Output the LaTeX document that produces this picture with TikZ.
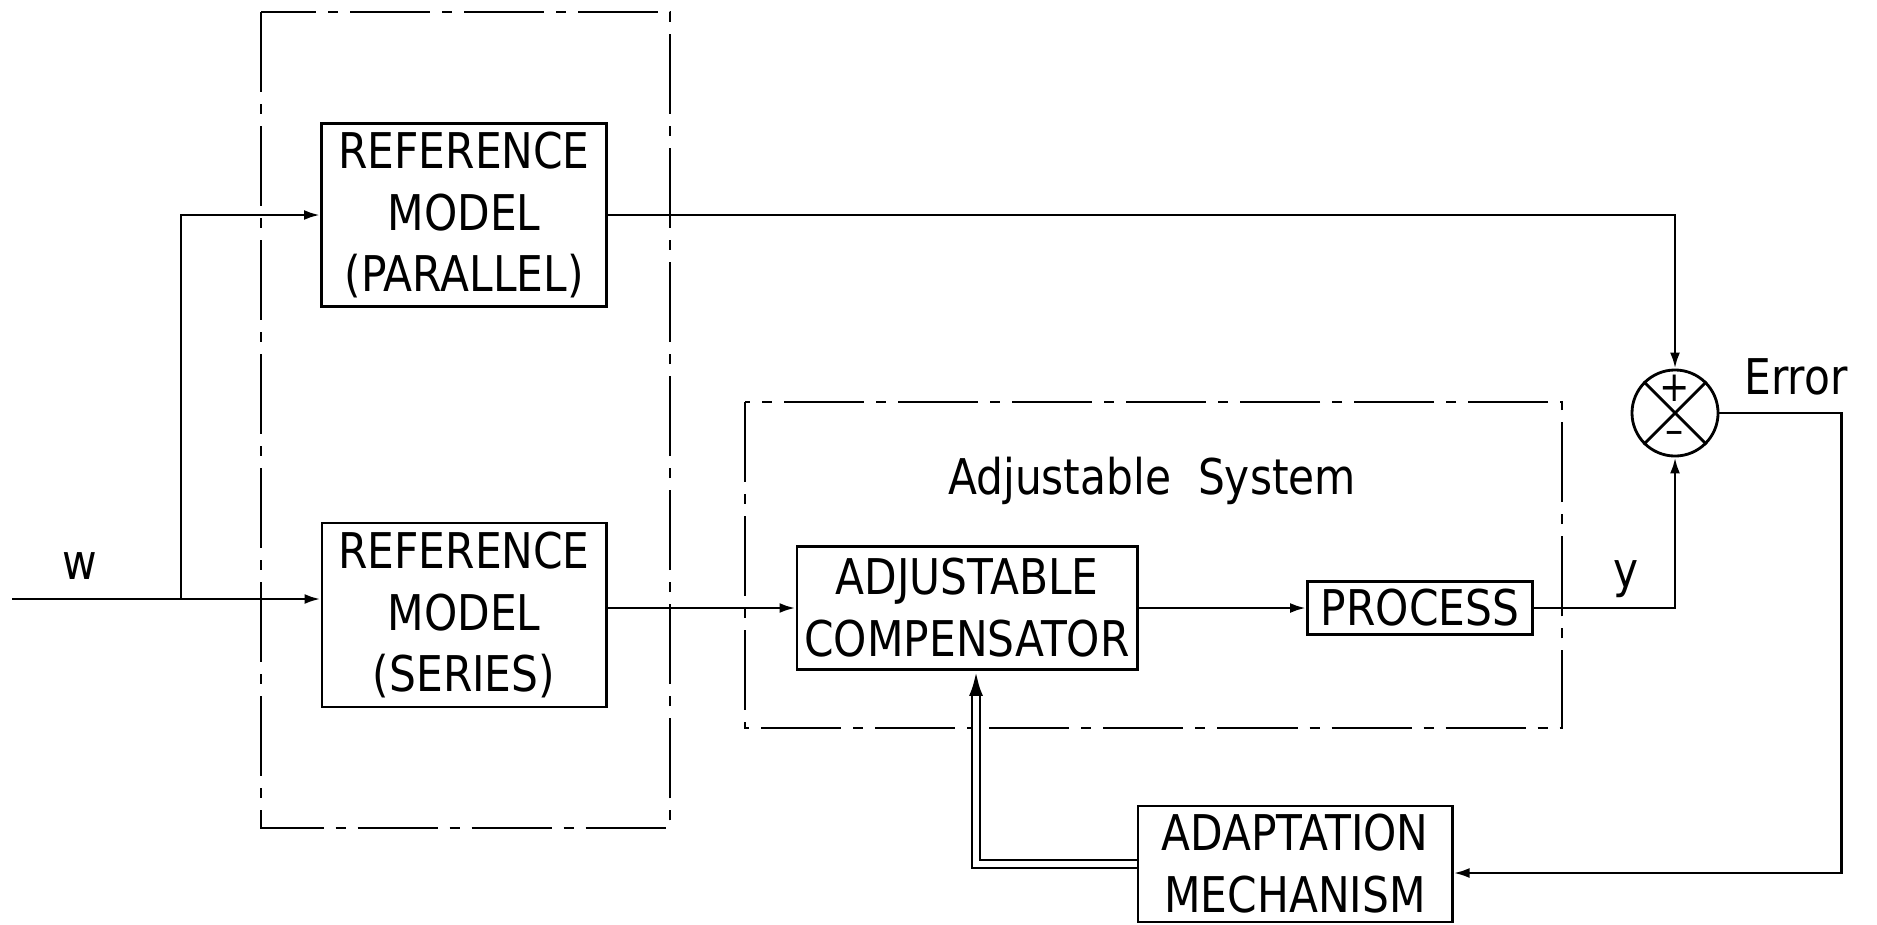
\documentclass[tikz,border=0pt]{standalone}
\usepackage{fontspec}
\setmainfont{DejaVu Sans}[FakeStretch=0.86]
\usepackage{tikz}
\usetikzlibrary{positioning, arrows.meta}

\begin{document}
\begin{tikzpicture}[x=0.01cm, y=-0.01cm, line width=0.8pt,
  blk/.style={draw, rectangle, inner sep=0pt, align=center, font=\fontsize{14}{17.6}\selectfont},
  sig/.style={-{Latex[length=0.16cm,width=0.1cm]}},
  chainbox/.style={line width=0.6pt, dash pattern=on 0.8cm off 0.12cm on 0.1cm off 0.12cm},
  lbl/.style={font=\fontsize{14}{17.6}\selectfont},
  sgn/.style={font=\fontsize{12}{12}\selectfont, inner sep=0pt}]
\useasboundingbox (0,0) rectangle (1877,924);
\draw[chainbox] (261,12) rectangle (670,828);
\draw[chainbox] (745,402) rectangle (1562,728);
\node[blk, minimum width=2.85cm, minimum height=1.83cm] (refpar) at (464,215) {REFERENCE\\MODEL\\(PARALLEL)};
\node[blk, minimum width=2.84cm, minimum height=1.84cm] (refser) at (464,615) {REFERENCE\\MODEL\\(SERIES)};
\node[blk, minimum width=3.40cm, minimum height=1.23cm] (comp) at (967,608) {ADJUSTABLE\\COMPENSATOR};
\node[blk, minimum width=2.25cm, minimum height=0.53cm] (proc) at (1420,608) {PROCESS};
\node[blk, minimum width=3.14cm, minimum height=1.16cm] (adapt) at (1295,864) {ADAPTATION\\MECHANISM};
\node[draw, circle, minimum size=0.86cm, inner sep=0pt] (sum) at (1675,413) {};
\draw (sum.north west) -- (sum.south east);
\draw (sum.north east) -- (sum.south west);
\node[sgn] (plus) at ([yshift=0.25cm]sum.center) {+};
\node[sgn] (minus) at ([yshift=-0.25cm]sum.center) {–};
\coordinate (in) at (12,599);
\coordinate (split) at (181,599);
\draw (in) -- (split);
\draw[sig] (split) -- (split -| refser.west);
\draw[sig] (split) |- (refpar.west);
\draw[sig] (comp.west -| refser.east) -- (comp.west);
\draw[sig] (comp.east) -- (proc.west);
\draw[sig] (refpar.east) -| (sum.north);
\draw[sig] (proc.east) -| (sum.south);
\draw[sig] (sum.east) -- ++(122,0) |- ([yshift=-0.09cm]adapt.east);
\draw[double, double distance=0.06cm, line width=0.6pt] (adapt.west) -| ([xshift=0.09cm, yshift=-0.2cm]comp.south);
\draw[-{Latex[length=0.25cm,width=0.14cm]}, line width=1.2pt] ([xshift=0.09cm, yshift=-0.24cm]comp.south) -- ([xshift=0.09cm]comp.south);
\node[lbl] (w) at (80,566) {w};
\node[lbl] (y) at (1626,579) {y};
\node[lbl] (err) at (1796,377) {Error};
\node[lbl] (adjsys) at (1152,481) {Adjustable~~System};
\end{tikzpicture}
\end{document}
